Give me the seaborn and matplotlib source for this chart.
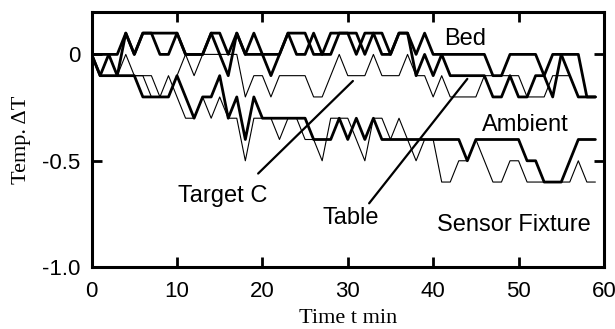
import numpy as np
import pandas as pd
import seaborn as sns
import matplotlib
matplotlib.use("Agg")
import matplotlib.pyplot as plt

# data: temperature change (deg), one value per minute
time_min = list(range(60))

bed = [0, 0, 0, 0, 0.1, 0, 0.1, 0.1, 0.1, 0.1,
       0.1, 0, 0, 0, 0.1, 0.1, 0, 0.1, 0, 0.1,
       0, 0, 0, 0.1, 0.1, 0.1, 0, 0, 0.1, 0.1,
       0.1, 0.1, 0, 0.1, 0, 0, 0.1, 0.1, 0, 0.1,
       0, 0, 0, 0, 0, 0, 0, -0.1, -0.1, 0,
       0, 0, 0, -0.1, -0.2, 0, 0, 0, -0.2, -0.2]

table = [0, -0.1, 0, -0.1, 0.1, 0, 0.1, 0.1, 0, 0,
         0.1, 0, 0, 0, 0.1, 0, -0.1, 0.1, 0, 0,
         0, -0.1, 0, 0.1, 0, 0, 0.1, 0, 0, 0.1,
         0.1, 0, 0.1, 0.1, 0.1, 0, 0.1, 0.1, -0.1, 0,
         -0.1, 0, -0.1, -0.1, -0.1, -0.1, -0.1, -0.2, -0.2, -0.1,
         -0.2, -0.2, -0.1, -0.1, 0, 0, -0.1, -0.2, -0.2, -0.2]

target_c = [0, -0.1, -0.1, -0.1, 0, -0.1, -0.1, -0.1, -0.2, -0.2,
            -0.1, 0, -0.1, 0, 0, 0, 0, 0, -0.2, -0.1,
            -0.1, -0.2, -0.1, -0.1, -0.1, -0.1, -0.2, -0.2, -0.1, 0,
            -0.1, -0.1, -0.1, 0, -0.1, -0.1, -0.1, 0, -0.1, -0.1,
            -0.2, -0.1, -0.2, -0.2, -0.2, -0.2, -0.1, -0.1, -0.1, -0.1,
            -0.1, -0.2, -0.2, -0.2, -0.1, -0.1, -0.1, -0.2, -0.2, -0.2]

ambient = [0, -0.1, -0.1, -0.1, -0.1, -0.1, -0.2, -0.2, -0.2, -0.2,
           -0.1, -0.2, -0.3, -0.2, -0.2, -0.1, -0.3, -0.2, -0.4, -0.2,
           -0.3, -0.3, -0.3, -0.3, -0.3, -0.3, -0.4, -0.4, -0.4, -0.3,
           -0.4, -0.3, -0.4, -0.3, -0.4, -0.4, -0.4, -0.4, -0.4, -0.4,
           -0.4, -0.4, -0.4, -0.4, -0.5, -0.4, -0.4, -0.4, -0.4, -0.4,
           -0.4, -0.5, -0.5, -0.6, -0.6, -0.6, -0.5, -0.4, -0.4, -0.4]

sensor_fixture = [0, -0.1, 0, -0.1, -0.1, -0.1, -0.1, -0.2, -0.2, -0.1,
                  -0.2, -0.3, -0.3, -0.2, -0.3, -0.2, -0.3, -0.3, -0.5, -0.3,
                  -0.3, -0.3, -0.4, -0.3, -0.3, -0.4, -0.4, -0.5, -0.3, -0.3,
                  -0.3, -0.4, -0.5, -0.3, -0.3, -0.4, -0.3, -0.4, -0.5, -0.4,
                  -0.4, -0.6, -0.6, -0.5, -0.5, -0.4, -0.5, -0.6, -0.6, -0.5,
                  -0.5, -0.6, -0.6, -0.6, -0.6, -0.6, -0.6, -0.5, -0.6, -0.6]

x_ticks = [0, 10, 20, 30, 40, 50, 60]
y_ticks = [-1.0, -0.5, 0]
y_tick_labels = ["-1.0", "-0.5", "0"]

# thick or thin line per series
series = {
    "Bed": (bed, 2.0),
    "Table": (table, 2.0),
    "Ambient": (ambient, 2.0),
    "Target C": (target_c, 0.8),
    "Sensor Fixture": (sensor_fixture, 0.8),
}

sns.set_style("ticks")
plt.rcParams["font.family"] = ["Liberation Sans", "DejaVu Sans"]
plt.rcParams["text.color"] = "black"
plt.rcParams["axes.labelcolor"] = "black"

fig = plt.figure(figsize=(6.15, 3.29), dpi=100)
ax = fig.add_axes([0.149, 0.188, 0.833, 0.776])

for name, (vals, lw) in series.items():
    df = pd.DataFrame({"t": time_min, "dT": vals})
    sns.lineplot(data=df, x="t", y="dT", ax=ax, color="black", linewidth=lw)

ax.set_xlim(0, 60)
ax.set_ylim(-1.0, 0.2)
ax.set_xticks(x_ticks)
ax.set_yticks(y_ticks)
ax.set_yticklabels(y_tick_labels)
ax.tick_params(direction="in", length=7, width=2, labelsize=16,
               top=True, right=True, colors="black")
ax.tick_params(axis="x", pad=10)
ax.tick_params(axis="y", pad=8)
for sp in ax.spines.values():
    sp.set_linewidth(2.2)
    sp.set_color("black")

serif = ["Liberation Serif", "DejaVu Serif"]
ax.set_xlabel("Time t min", family=serif, fontsize=16, labelpad=5)
ax.set_ylabel("Temp. \u0394T", family=serif, fontsize=16, labelpad=8)

# series labels
lab = dict(fontsize=17, ha="center", va="center")
ax.text(43.8, 0.072, "Bed", **lab)
ax.text(50.8, -0.33, "Ambient", **lab)
ax.text(15.3, -0.667, "Target C", **lab)
ax.text(30.4, -0.767, "Table", **lab)
ax.text(49.5, -0.80, "Sensor Fixture", **lab)

# pointer lines
ax.plot([19.5, 30.6], [-0.56, -0.125], color="black", linewidth=1.6)
ax.plot([32.5, 44.0], [-0.70, -0.115], color="black", linewidth=1.6)

fig.savefig("out.png", dpi=100)
